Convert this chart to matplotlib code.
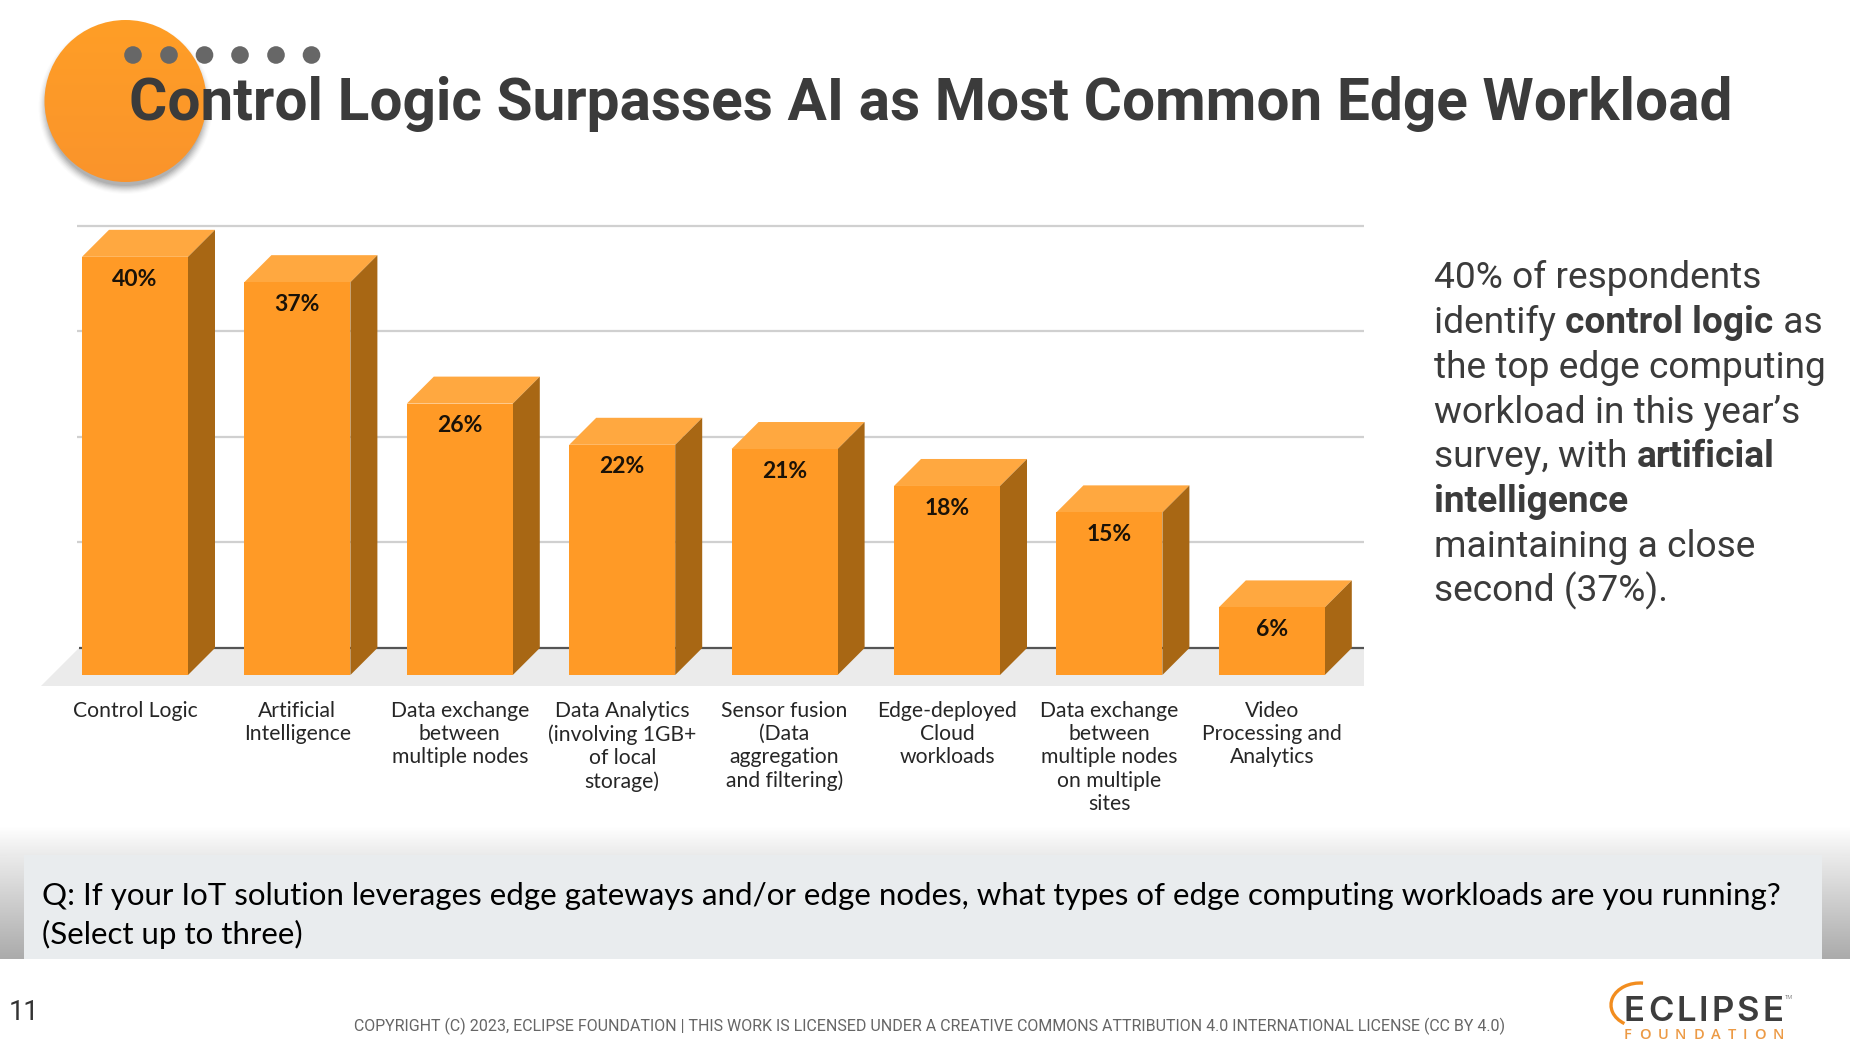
import numpy as np
import matplotlib
matplotlib.use("Agg")
import matplotlib.pyplot as plt
from matplotlib.patches import Circle, Polygon, Rectangle, Arc

# values, printed rounded
categories = ["Control Logic", "Artificial\nIntelligence", "Data exchange\nbetween\nmultiple nodes",
              "Data Analytics\n(involving 1GB+\nof local\nstorage)", "Sensor fusion\n(Data\naggregation\nand filtering)",
              "Edge-deployed\nCloud\nworkloads", "Data exchange\nbetween\nmultiple nodes\non multiple\nsites",
              "Video\nProcessing and\nAnalytics"]
values = [39.6, 37.2, 25.7, 21.8, 21.4, 17.9, 15.4, 6.4]
grid_ticks = [10, 20, 30, 40]

title = "Control Logic Surpasses AI as Most Common Edge Workload"
side_lines = [
    [("40% of respondents", False)],
    [("identify ", False), ("control logic", True), (" as", False)],
    [("the top edge computing", False)],
    [("workload in this year\u2019s", False)],
    [("survey, with ", False), ("artificial", True)],
    [("intelligence", True)],
    [("maintaining a close", False)],
    [("second (37%).", False)],
]
question = ("Q: If your IoT solution leverages edge gateways and/or edge nodes, what types of edge computing workloads are you running?\n"
            "(Select up to three)")
copyright_text = "COPYRIGHT (C) 2023, ECLIPSE FOUNDATION | THIS WORK IS LICENSED UNDER A CREATIVE COMMONS ATTRIBUTION 4.0 INTERNATIONAL LICENSE (CC BY 4.0)"

W, H = 1850, 1056
fig = plt.figure(figsize=(W / 100, H / 100), dpi=100, facecolor="white")

# slide background, pixel coordinates
bg = fig.add_axes([0, 0, 1, 1])
bg.set_xlim(0, W)
bg.set_ylim(H, 0)
bg.axis("off")

# grey band at the bottom
fade = np.linspace(1, 0, 64).reshape(-1, 1)
fade_rgb = fade * 1.0 + (1 - fade) * 0.915
bg.imshow(fade_rgb, extent=[0, W, 856, 826], cmap="gray", vmin=0, vmax=1, aspect="auto", zorder=1)
strip = np.linspace(0.915, 0.67, 64).reshape(-1, 1)
bg.imshow(strip, extent=[0, W, 959, 856], cmap="gray", vmin=0, vmax=1, aspect="auto", zorder=1)
bg.add_patch(Rectangle((24, 855), 1798, 104, fc="#E9ECEE", ec="none", zorder=2))
bg.set_xlim(0, W)
bg.set_ylim(H, 0)

# orange circle with soft shadow
for r, a in zip(np.linspace(87, 79, 8), np.linspace(0.015, 0.07, 8)):
    bg.add_patch(Circle((125.5, 107), r, fc="black", ec="none", alpha=a, zorder=3))
grad = np.linspace(0, 1, 64).reshape(-1, 1)
c1 = np.array([1.0, 0.62, 0.15])
c2 = np.array([0.98, 0.58, 0.17])
img = (c1 * (1 - grad[..., None]) + c2 * grad[..., None])
im = bg.imshow(img, extent=[43, 208, 182, 19], aspect="auto", zorder=4)
im.set_clip_path(Circle((125.5, 101), 81, transform=bg.transData))
bg.set_xlim(0, W)
bg.set_ylim(H, 0)

for x in [133, 169, 204.5, 240, 276, 311.5]:
    bg.add_patch(Circle((x, 55), 8.8, fc="#676767", ec="none", zorder=5))

bg.text(129, 104.5, title, fontsize=42.15, family="Roboto", weight="bold", color="#3B3B3B",
        va="center", ha="left", zorder=6)

# side text with bold runs
fig.canvas.draw()
renderer = fig.canvas.get_renderer()
for i, runs in enumerate(side_lines):
    x = 1434
    y = 288 + 44.85 * i
    for chunk, is_bold in runs:
        t = bg.text(x, y, chunk, fontsize=26.75, family="Roboto", weight="bold" if is_bold else "normal",
                    color="#3B3B3B", va="baseline", ha="left", zorder=6)
        x += t.get_window_extent(renderer).width

bg.text(42, 915.5, question, fontsize=22.5, family="Lato", color="black", va="center", ha="left",
        linespacing=1.38, zorder=6)
bg.text(9, 1012, "11", fontsize=19.5, family="Roboto", color="#333333", va="center", ha="left", zorder=6)
bg.text(354, 1026, copyright_text, fontsize=11.54, family="Roboto", color="#666666", va="center", ha="left", zorder=6)


# letters evenly spread between two x positions
def spaced_text(x0, x1, y, s, **kw):
    items = [bg.text(0, y, ch, va="baseline", ha="left", zorder=6, **kw) for ch in s]
    widths = [t.get_window_extent(renderer).width for t in items]
    gap = (x1 - x0 - sum(widths)) / (len(s) - 1)
    x = x0
    for t, w in zip(items, widths):
        t.set_x(x)
        x += w + gap


# logo
bg.add_patch(Arc((1640, 1005), 58, 44, theta1=130, theta2=278, ec="#F28D1F", lw=2.4, zorder=6))
spaced_text(1624, 1783, 1021, "ECLIPSE", fontsize=25, family="Inter", weight="semibold", color="#3D3D3D")
bg.text(1785, 999, "TM", fontsize=4, family="Roboto", color="#888888", va="baseline", ha="left", zorder=6)
spaced_text(1624, 1784, 1039, "FOUNDATION", fontsize=10.5, family="Open Sans", weight="semibold", color="#EC9A45")

# chart, one x unit = one category step
px_x, px_y = 162.4, 10.56
x_left, x_right = 35, 1364
y_bottom, y_top = 686, 200
ax = fig.add_axes([x_left / W, 1 - y_bottom / H, (x_right - x_left) / W, (y_bottom - y_top) / H])
ax.patch.set_alpha(0)
ax.set_xlim((x_left - 135) / px_x, (x_right - 135) / px_x)
ax.set_ylim((675 - y_bottom) / px_y, (675 - y_top) / px_y)
for s in ax.spines.values():
    s.set_visible(False)
ax.set_yticks([])

depth_x, depth_y = 27 / px_x, 27 / px_y
bar_w = 106 / px_x
xlo, xhi = ax.get_xlim()
ylo, _ = ax.get_ylim()
floor_left = (41 - 135) / px_x
base_left = (79 - 135) / px_x
ax.add_patch(Polygon([(floor_left, ylo), (xhi, ylo), (xhi, depth_y), (base_left, depth_y)],
                     fc="#EBEBEB", ec="none", zorder=1))
ax.hlines([t + depth_y for t in grid_ticks], (77 - 135) / px_x, xhi, color="#D0D0D0", lw=1.6, zorder=1)
ax.hlines(depth_y, base_left, xhi, color="#555555", lw=1.6, zorder=1.5)

xs = np.arange(len(values))
ax.bar(xs, values, width=bar_w, color="#FF9A26", zorder=3)
for x, v in zip(xs, values):
    l, r = x - bar_w / 2, x + bar_w / 2
    ax.add_patch(Polygon([(l, v), (r, v), (r + depth_x, v + depth_y), (l + depth_x, v + depth_y)],
                         fc="#FFA840", ec="none", zorder=2))
    ax.add_patch(Polygon([(r, 0), (r + depth_x, depth_y), (r + depth_x, v + depth_y), (r, v)],
                         fc="#A86714", ec="none", zorder=2))
    ax.text(x, v - 2.1, f"{v:.0f}%", fontsize=16.5, family="Lato", weight="bold", color="#1A1208",
            ha="center", va="center", zorder=4)

ax.set_xticks(xs)
ax.set_xticklabels(categories, fontsize=15.2, family="Lato", color="#262626", linespacing=1.21)
ax.tick_params(axis="x", length=0, pad=10.5)

fig.savefig("out.png", dpi=100)
